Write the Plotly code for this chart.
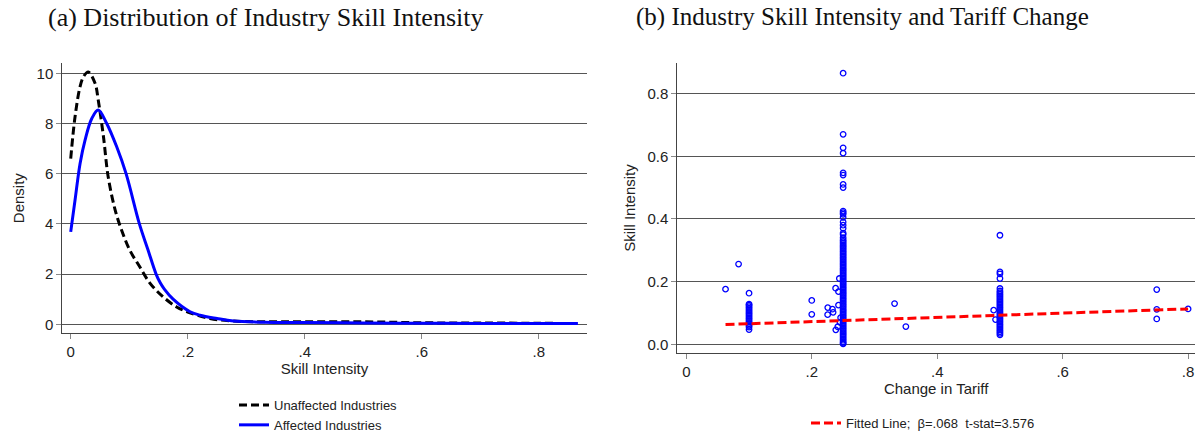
import plotly.graph_objects as go

# ---------------- Panel (a): kernel densities ----------------
unaff_x = [0, 0.0074, 0.016, 0.022, 0.030, 0.0416, 0.047, 0.056, 0.064, 0.076, 0.087,
           0.101, 0.118, 0.136, 0.158, 0.181, 0.2, 0.238, 0.278, 0.33, 0.4, 0.5, 0.6,
           0.7, 0.8, 0.848]
unaff_y = [6.6, 8.27, 9.47, 9.87, 10.05, 9.6, 8.94, 7.47, 5.88, 4.55, 3.75,
           2.95, 2.29, 1.62, 1.09, 0.69, 0.49, 0.23, 0.13, 0.1, 0.1, 0.1, 0.06,
           0.05, 0.04, 0.03]

aff_x = [0, 0.0074, 0.016, 0.0245, 0.036, 0.047, 0.0615, 0.0786, 0.0946, 0.1174,
         0.1316, 0.1459, 0.153, 0.16, 0.175, 0.204, 0.221, 0.25, 0.278, 0.33, 0.4,
         0.5, 0.6, 0.7, 0.8, 0.867]
aff_y = [3.68, 4.95, 6.41, 7.34, 8.2, 8.54, 8.0, 7.07, 6.0, 4.0,
         3.0, 2.0, 1.65, 1.4, 1.0, 0.5, 0.36, 0.23, 0.13, 0.08, 0.07,
         0.05, 0.04, 0.03, 0.03, 0.03]

dens_ticks = [0, 2, 4, 6, 8, 10]
a_x_ticks = [0, 0.2, 0.4, 0.6, 0.8]
a_x_ticktext = ["0", ".2", ".4", ".6", ".8"]

# ---------------- Panel (b): scatter ----------------
skill_t010 = [0.163, 0.128, 0.125, 0.12, 0.115, 0.11, 0.105, 0.1, 0.095, 0.09, 0.085,
              0.08, 0.075, 0.07, 0.065, 0.06, 0.055, 0.047]
skill_t025 = [0.865, 0.67, 0.627, 0.61, 0.547, 0.54, 0.51, 0.50, 0.425, 0.42, 0.415,
              0.405, 0.39, 0.38, 0.37, 0.355, 0.35, 0.34, 0.333, 0.328, 0.323, 0.318,
              0.313, 0.308, 0.303, 0.298, 0.293, 0.288, 0.283, 0.278, 0.273, 0.268,
              0.263, 0.258, 0.253, 0.248, 0.243, 0.238, 0.233, 0.228, 0.223, 0.218,
              0.213, 0.208, 0.203, 0.198, 0.193, 0.188, 0.183, 0.178, 0.173, 0.168,
              0.163, 0.158, 0.153, 0.148, 0.143, 0.138, 0.133, 0.128, 0.123, 0.118,
              0.113, 0.108, 0.103, 0.098, 0.093, 0.088, 0.083, 0.078, 0.073, 0.068,
              0.063, 0.058, 0.053, 0.048, 0.043, 0.038, 0.033, 0.028, 0.023, 0.018,
              0.013, 0.008, 0.004, 0.001]
skill_t050 = [0.348, 0.231, 0.225, 0.21, 0.178, 0.17, 0.165, 0.16, 0.155, 0.15, 0.145,
              0.14, 0.135, 0.13, 0.125, 0.12, 0.115, 0.11, 0.105, 0.1, 0.095, 0.09,
              0.085, 0.08, 0.075, 0.07, 0.065, 0.06, 0.055, 0.05, 0.045, 0.04, 0.035,
              0.03]
other_tariff = [0.0625, 0.0833, 0.2, 0.2, 0.2255, 0.2253, 0.233, 0.234, 0.238, 0.2426,
                0.2426, 0.244, 0.2383, 0.2415, 0.245, 0.246, 0.332, 0.35, 0.493, 0.49,
                0.75, 0.75, 0.75, 0.8]
other_skill = [0.176, 0.256, 0.140, 0.0957, 0.117, 0.0946, 0.112, 0.102, 0.179, 0.168,
               0.125, 0.21, 0.046, 0.056, 0.07, 0.085, 0.13, 0.0565, 0.079, 0.109,
               0.1745, 0.1117, 0.081, 0.1127]

fit_x = [0.0625, 0.8]
fit_y = [0.063, 0.113]

b_y_ticks = [0.0, 0.2, 0.4, 0.6, 0.8]
b_y_ticktext = ["0.0", "0.2", "0.4", "0.6", "0.8"]
b_x_ticks = [0, 0.2, 0.4, 0.6, 0.8]
b_x_ticktext = ["0", ".2", ".4", ".6", ".8"]

scat_x = ([0.1] * len(skill_t010) + [0.25] * len(skill_t025) +
          [0.5] * len(skill_t050) + other_tariff)
scat_y = skill_t010 + skill_t025 + skill_t050 + other_skill

W, H = 1195, 435
def px(x):
    return x / W
def py(y):
    return 1 - y / H

BLUE = "rgb(0,0,255)"
SANS = "Liberation Sans, Arial, sans-serif"
SERIF = "Liberation Serif, Times New Roman, serif"

fig = go.Figure()
fig.add_trace(go.Scatter(x=unaff_x, y=unaff_y, mode="lines", line_shape="spline",
                         name="Unaffected Industries",
                         line=dict(color="black", width=3, dash="8px,4px"),
                         xaxis="x", yaxis="y", legend="legend"))
fig.add_trace(go.Scatter(x=aff_x, y=aff_y, mode="lines", line_shape="spline",
                         name="Affected Industries",
                         line=dict(color=BLUE, width=3),
                         xaxis="x", yaxis="y", legend="legend"))
fig.add_trace(go.Scatter(x=scat_x, y=scat_y, mode="markers", showlegend=False,
                         marker=dict(symbol="circle-open", size=5.5, color=BLUE,
                                     line=dict(width=1.3, color=BLUE)),
                         xaxis="x2", yaxis="y2"))
fig.add_trace(go.Scatter(x=fit_x, y=fit_y, mode="lines",
                         name="Fitted Line;\u00a0\u00a0\u03b2=.068\u00a0\u00a0t-stat=3.576",
                         line=dict(color="red", width=3, dash="9px,4px"),
                         xaxis="x2", yaxis="y2", legend="legend2"))

axis_common = dict(showline=True, linecolor="#444", linewidth=1, ticks="outside",
                   ticklen=5, tickcolor="#888", tickwidth=1, zeroline=False,
                   automargin=False,
                   tickfont=dict(family=SANS, size=15, color="#222"))
title_font = dict(family=SANS, size=15, color="#222")

fig.update_layout(
    width=W, height=H, margin=dict(l=0, r=0, t=0, b=0, autoexpand=False),
    paper_bgcolor="white", plot_bgcolor="white",
    xaxis=dict(domain=[px(62.3), px(586.7)], range=[-0.0144, 0.882], anchor="y",
               tickvals=a_x_ticks, ticktext=a_x_ticktext, showgrid=False,
               title=dict(text="Skill Intensity", standoff=4, font=title_font),
               **axis_common),
    yaxis=dict(domain=[py(333.3), py(63)], range=[-0.36, 10.41], anchor="x",
               tickvals=dens_ticks, showgrid=True, gridcolor="#555", gridwidth=1,
               title=dict(text="Density", standoff=8, font=title_font),
               **axis_common),
    xaxis2=dict(domain=[px(677.3), 1.0], range=[-0.0144, 0.811], anchor="y2",
                tickvals=b_x_ticks, ticktext=b_x_ticktext, showgrid=False,
                title=dict(text="Change in Tariff", standoff=4, font=title_font),
                **axis_common),
    yaxis2=dict(domain=[py(353), py(63)], range=[-0.0278, 0.8976], anchor="x2",
                tickvals=b_y_ticks, ticktext=b_y_ticktext, showgrid=True,
                gridcolor="#555", gridwidth=1,
                title=dict(text="Skill Intensity", standoff=8, font=title_font),
                **axis_common),
    legend=dict(x=px(234), y=py(390), xanchor="left", yanchor="top",
                bgcolor="rgba(0,0,0,0)", tracegroupgap=0, itemwidth=30,
                font=dict(family=SANS, size=13, color="#222")),
    legend2=dict(x=px(806), y=py(408), xanchor="left", yanchor="top",
                 bgcolor="rgba(0,0,0,0)", itemwidth=30,
                 font=dict(family=SANS, size=13, color="#222")),
    annotations=[
        dict(text="(a) Distribution of Industry Skill Intensity", x=px(265), y=py(17),
             xref="paper", yref="paper", showarrow=False, xanchor="center",
             yanchor="middle", font=dict(family=SERIF, size=26, color="#111")),
        dict(text="(b) Industry Skill Intensity and Tariff Change", x=px(862), y=py(17),
             xref="paper", yref="paper", showarrow=False, xanchor="center",
             yanchor="middle", font=dict(family=SERIF, size=25, color="#111")),
    ],
)

fig.write_html("out.html")
